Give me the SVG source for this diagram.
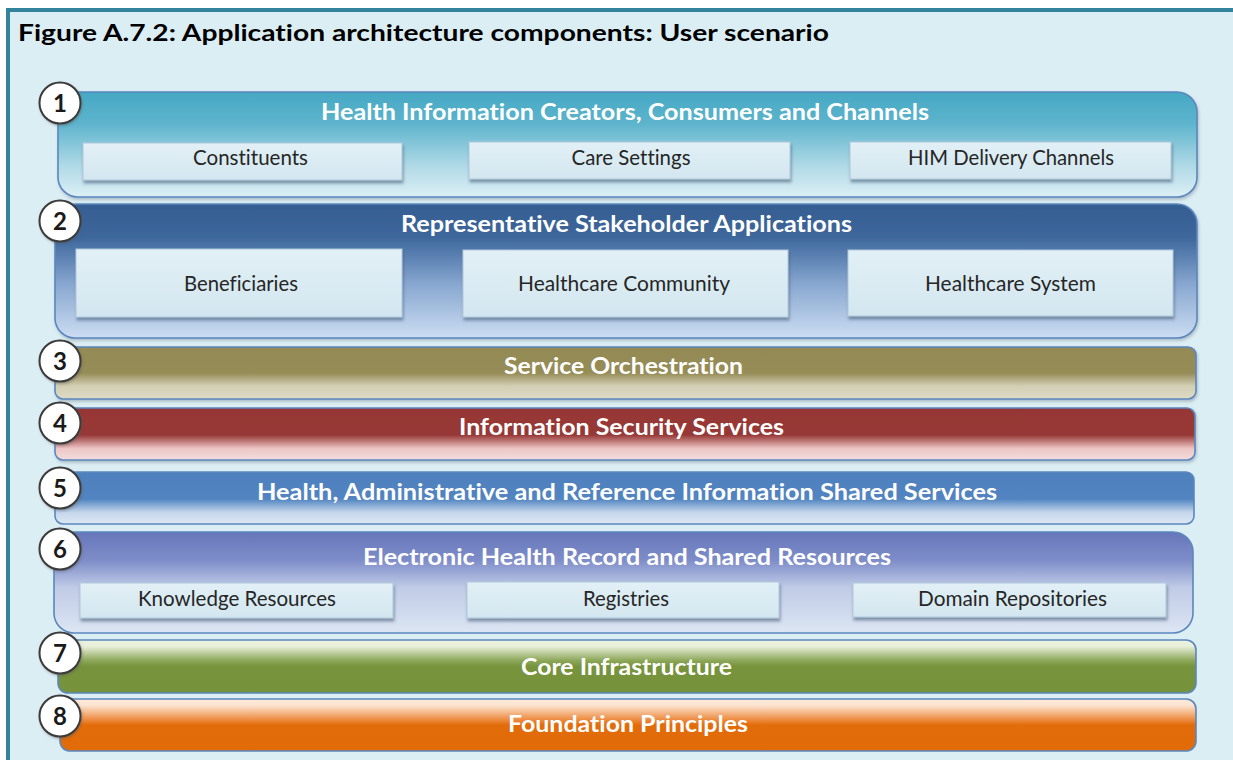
<svg xmlns="http://www.w3.org/2000/svg" width="1233" height="760" viewBox="0 0 1233 760">
<defs>
<style>
text{font-variant-ligatures:none}
.ttl{font-family:Lato,"Open Sans",sans-serif;font-weight:bold;font-size:23px;fill:#ffffff;text-anchor:middle}
.sub{font-family:Lato,"Open Sans",sans-serif;font-size:21px;fill:#262626;text-anchor:middle}
.num{font-family:Lato,"Open Sans",sans-serif;font-weight:bold;font-size:24px;fill:#1a1a1a;text-anchor:middle}
.layer{stroke:#5B87BE;stroke-width:1.6}
.box{fill:url(#gBox);stroke:#AFC8DC;stroke-width:1;filter:url(#sh)}
.circ{fill:#ffffff;stroke:#3a3a3a;stroke-width:2;filter:url(#csh)}
</style>
<filter id="sh" x="-5%" y="-20%" width="110%" height="150%">
<feDropShadow dx="1" dy="3" stdDeviation="1.6" flood-color="#4a5f78" flood-opacity="0.6"/>
</filter>
<filter id="lsh" x="-5%" y="-10%" width="110%" height="130%">
<feDropShadow dx="1" dy="2" stdDeviation="1.5" flood-color="#7a8a9a" flood-opacity="0.5"/>
</filter>
<filter id="csh" x="-30%" y="-30%" width="160%" height="160%">
<feDropShadow dx="1" dy="1.5" stdDeviation="1" flood-color="#555555" flood-opacity="0.4"/>
</filter>
<linearGradient id="gBox" x1="0" y1="0" x2="0" y2="1">
<stop offset="0" stop-color="#E2F0F6"/><stop offset="1" stop-color="#D3E6EF"/>
</linearGradient>
<linearGradient id="g1" x1="0" y1="0" x2="0" y2="1">
<stop offset="0" stop-color="#46A8C4"/><stop offset="0.3" stop-color="#5DB4CC"/><stop offset="0.7" stop-color="#AFD9E6"/><stop offset="1" stop-color="#DCEFF5"/>
</linearGradient>
<linearGradient id="g2" x1="0" y1="0" x2="0" y2="1">
<stop offset="0" stop-color="#355E91"/><stop offset="0.25" stop-color="#3D679C"/><stop offset="0.6" stop-color="#88A7D0"/><stop offset="1" stop-color="#CCDDF2"/>
</linearGradient>
<linearGradient id="g3" x1="0" y1="0" x2="0" y2="1">
<stop offset="0" stop-color="#948A54"/><stop offset="0.5" stop-color="#968C57"/><stop offset="0.75" stop-color="#D3CFB4"/><stop offset="1" stop-color="#DEDAC5"/>
</linearGradient>
<linearGradient id="g4" x1="0" y1="0" x2="0" y2="1">
<stop offset="0" stop-color="#963634"/><stop offset="0.52" stop-color="#973937"/><stop offset="0.78" stop-color="#EDC6C6"/><stop offset="1" stop-color="#F3DCDC"/>
</linearGradient>
<linearGradient id="g5" x1="0" y1="0" x2="0" y2="1">
<stop offset="0" stop-color="#4E80BD"/><stop offset="0.52" stop-color="#5184C0"/><stop offset="0.78" stop-color="#C6D7EC"/><stop offset="1" stop-color="#DDE7F3"/>
</linearGradient>
<linearGradient id="g6" x1="0" y1="0" x2="0" y2="1">
<stop offset="0" stop-color="#6676B9"/><stop offset="0.28" stop-color="#7E8DC9"/><stop offset="0.55" stop-color="#C0CBE6"/><stop offset="1" stop-color="#DCE6F3"/>
</linearGradient>
<linearGradient id="g7" x1="0" y1="0" x2="0" y2="1">
<stop offset="0" stop-color="#EBF1DE"/><stop offset="0.12" stop-color="#E8EFDA"/><stop offset="0.38" stop-color="#8FA95C"/><stop offset="0.5" stop-color="#77933C"/><stop offset="1" stop-color="#76923B"/>
</linearGradient>
<linearGradient id="g8" x1="0" y1="0" x2="0" y2="1">
<stop offset="0" stop-color="#FDEADA"/><stop offset="0.12" stop-color="#FCE5D2"/><stop offset="0.38" stop-color="#EE914A"/><stop offset="0.5" stop-color="#E36C0A"/><stop offset="1" stop-color="#E26B09"/>
</linearGradient>
</defs>

<rect x="0" y="0" width="1233" height="760" fill="#ffffff"/>
<rect x="8" y="10" width="1240" height="760" fill="#DBEEF4" stroke="#31849B" stroke-width="4"/>
<text x="18" y="41" font-family="Lato,'Open Sans',sans-serif" font-weight="bold" font-size="23" fill="#000000" textLength="811" lengthAdjust="spacingAndGlyphs">Figure A.7.2: Application architecture components: User scenario</text>

<g id="connectors"/>

<g id="layer1">
<rect class="layer" x="58" y="92" width="1139" height="105" rx="20" fill="url(#g1)" stroke="#4F7FB8" filter="url(#lsh)"/>
<text class="ttl" x="625" y="120" textLength="608" lengthAdjust="spacingAndGlyphs">Health Information Creators, Consumers and Channels</text>
<g id="constituents"><rect class="box" x="83" y="143" width="319" height="37"/><text class="sub" x="250.5" y="165" textLength="115" lengthAdjust="spacingAndGlyphs">Constituents</text></g>
<g id="care-settings"><rect class="box" x="469" y="142" width="321" height="37"/><text class="sub" x="631" y="165" textLength="119" lengthAdjust="spacingAndGlyphs">Care Settings</text></g>
<g id="him-delivery"><rect class="box" x="850" y="142" width="321" height="37"/><text class="sub" x="1011" y="165" textLength="206" lengthAdjust="spacingAndGlyphs">HIM Delivery Channels</text></g>
</g>

<g id="layer2">
<rect class="layer" x="55" y="204" width="1142" height="134" rx="20" fill="url(#g2)" stroke="#9FB8D8" filter="url(#lsh)"/>
<text class="ttl" x="626.5" y="232" textLength="451" lengthAdjust="spacingAndGlyphs">Representative Stakeholder Applications</text>
<g id="beneficiaries"><rect class="box" x="76" y="249" width="326" height="68"/><text class="sub" x="241" y="291" textLength="114" lengthAdjust="spacingAndGlyphs">Beneficiaries</text></g>
<g id="healthcare-community"><rect class="box" x="463" y="250" width="325" height="67"/><text class="sub" x="624" y="291" textLength="212" lengthAdjust="spacingAndGlyphs">Healthcare Community</text></g>
<g id="healthcare-system"><rect class="box" x="848" y="250" width="325" height="66"/><text class="sub" x="1010.5" y="291" textLength="171" lengthAdjust="spacingAndGlyphs">Healthcare System</text></g>
</g>

<g id="layer3">
<rect class="layer" x="55" y="347" width="1141" height="52" rx="8" fill="url(#g3)" filter="url(#lsh)"/>
<text class="ttl" x="623.5" y="374" textLength="239" lengthAdjust="spacingAndGlyphs">Service Orchestration</text>
</g>

<g id="layer4">
<rect class="layer" x="55" y="408" width="1140" height="52" rx="8" fill="url(#g4)" stroke="#C9D3E0" filter="url(#lsh)"/>
<text class="ttl" x="621.5" y="435" textLength="325" lengthAdjust="spacingAndGlyphs">Information Security Services</text>
</g>

<g id="layer5">
<rect class="layer" x="55" y="472" width="1139" height="52" rx="8" fill="url(#g5)"/>
<text class="ttl" x="627" y="500" textLength="740" lengthAdjust="spacingAndGlyphs">Health, Administrative and Reference Information Shared Services</text>
</g>

<g id="layer6">
<rect class="layer" x="54" y="532" width="1139" height="101" rx="20" fill="url(#g6)"/>
<text class="ttl" x="627" y="565" textLength="528" lengthAdjust="spacingAndGlyphs">Electronic Health Record and Shared Resources</text>
<g id="knowledge-resources"><rect class="box" x="80" y="583" width="313" height="35"/><text class="sub" x="237" y="606" textLength="198" lengthAdjust="spacingAndGlyphs">Knowledge Resources</text></g>
<g id="registries"><rect class="box" x="467" y="582" width="312" height="36"/><text class="sub" x="626" y="606" textLength="86" lengthAdjust="spacingAndGlyphs">Registries</text></g>
<g id="domain-repositories"><rect class="box" x="853" y="583" width="313" height="34"/><text class="sub" x="1012.5" y="606" textLength="189" lengthAdjust="spacingAndGlyphs">Domain Repositories</text></g>
</g>

<g id="layer7">
<rect class="layer" x="58" y="640" width="1138" height="53" rx="10" fill="url(#g7)"/>
<text class="ttl" x="626.5" y="675" textLength="211" lengthAdjust="spacingAndGlyphs">Core Infrastructure</text>
</g>

<g id="layer8">
<rect class="layer" x="60" y="699" width="1136" height="52" rx="10" fill="url(#g8)"/>
<text class="ttl" x="628" y="732" textLength="240" lengthAdjust="spacingAndGlyphs">Foundation Principles</text>
</g>

<g id="numbers">
<g id="n1"><circle class="circ" cx="60" cy="103" r="20.5"/><text class="num" x="60" y="112">1</text></g>
<g id="n2"><circle class="circ" cx="60" cy="221" r="20.5"/><text class="num" x="60" y="230">2</text></g>
<g id="n3"><circle class="circ" cx="60" cy="361" r="20.5"/><text class="num" x="60" y="370">3</text></g>
<g id="n4"><circle class="circ" cx="60" cy="423" r="20.5"/><text class="num" x="60" y="432">4</text></g>
<g id="n5"><circle class="circ" cx="60" cy="488" r="20.5"/><text class="num" x="60" y="497">5</text></g>
<g id="n6"><circle class="circ" cx="60" cy="549" r="20.5"/><text class="num" x="60" y="558">6</text></g>
<g id="n7"><circle class="circ" cx="60" cy="653" r="20.5"/><text class="num" x="60" y="662">7</text></g>
<g id="n8"><circle class="circ" cx="60" cy="716" r="20.5"/><text class="num" x="60" y="725">8</text></g>
</g>
</svg>
